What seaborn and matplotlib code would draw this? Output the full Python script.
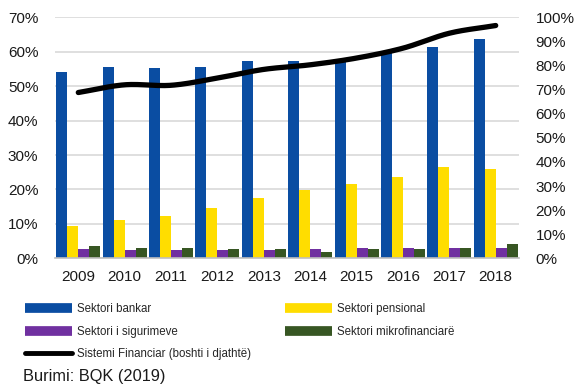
import numpy as np
import pandas as pd
import matplotlib
matplotlib.use("Agg")
import matplotlib.pyplot as plt
from matplotlib.lines import Line2D
import seaborn as sns

years = ["2009", "2010", "2011", "2012", "2013", "2014", "2015", "2016", "2017", "2018"]
bankar = [54.1, 55.7, 55.2, 55.7, 57.4, 57.4, 58.0, 59.9, 61.5, 63.7]
pensional = [9.4, 11.1, 12.3, 14.5, 17.4, 19.9, 21.5, 23.7, 26.6, 26.0]
sigurimeve = [2.6, 2.5, 2.5, 2.5, 2.5, 2.6, 3.1, 3.1, 3.1, 3.1]
mikrofin = [3.7, 3.1, 3.1, 2.6, 2.6, 1.9, 2.6, 2.6, 3.1, 4.2]
sistemi = [68.8, 72.0, 71.8, 74.8, 78.4, 80.3, 83.1, 87.2, 93.4, 96.6]

series_names = ["Sektori bankar", "Sektori pensional", "Sektori i sigurimeve",
                "Sektori mikrofinanciarë"]
line_name = "Sistemi Financiar (boshti i djathtë)"
colors = ["#0A4DA2", "#FFDD00", "#7030A0", "#375623"]

sns.set_theme(style="white")
plt.rcParams["font.family"] = ["Liberation Sans", "DejaVu Sans"]

df = pd.DataFrame({
    "year": np.repeat(years, 4),
    "sector": series_names * len(years),
    "value": np.ravel(np.column_stack([bankar, pensional, sigurimeve, mikrofin])),
})

fig = plt.figure(figsize=(5.74, 3.85), dpi=100)
ax = fig.add_axes([0.096, 0.329, 0.808, 0.626])

sns.barplot(data=df, x="year", y="value", hue="sector", hue_order=series_names,
            palette=colors, width=0.95, gap=0.0, saturation=1, ax=ax,
            legend=False, edgecolor="none")

ax.set_ylim(0, 70)
ax.set_yticks(range(0, 71, 10))
ax.set_yticklabels([f"{v}%" for v in range(0, 71, 10)])
ax.set_xlim(-0.5, len(years) - 0.5)
ax.set_xlabel("")
ax.set_ylabel("")
ax.grid(axis="y", color="#D9D9D9", linewidth=1.2)
ax.set_axisbelow(True)
for s in ["left", "right", "top"]:
    ax.spines[s].set_visible(False)
ax.spines["bottom"].set_color("#BFBFBF")
ax.spines["bottom"].set_linewidth(1.2)
ax.tick_params(axis="y", length=0, labelsize=11, pad=12, colors="#1A1A1A")
ax.tick_params(axis="x", length=0, labelsize=11, pad=8.5, colors="#1A1A1A")
# category boundary ticks on the x axis
ax.set_xticks(np.arange(-0.5, len(years), 1.0), minor=True)
ax.tick_params(axis="x", which="minor", length=5, width=1.2, color="#BFBFBF",
               direction="out")

# Right axis: smoothed financial system line
ax2 = ax.twinx()
x = np.arange(len(years), dtype=float)
y = np.array(sistemi, dtype=float)
# cubic Hermite smoothing through the yearly points
xs, ys = [], []
m = np.gradient(y, x)
for i in range(len(x) - 1):
    t = np.linspace(0, 1, 30)
    h00 = 2 * t**3 - 3 * t**2 + 1
    h10 = t**3 - 2 * t**2 + t
    h01 = -2 * t**3 + 3 * t**2
    h11 = t**3 - t**2
    xs.append(x[i] + t)
    ys.append(h00 * y[i] + h10 * m[i] + h01 * y[i + 1] + h11 * m[i + 1])
smooth = pd.DataFrame({"x": np.concatenate(xs), "y": np.concatenate(ys)})
sns.lineplot(data=smooth, x="x", y="y", color="black", linewidth=3.8,
             ax=ax2, sort=False, solid_capstyle="round")
ax2.set_ylim(0, 100)
ax2.set_yticks(range(0, 101, 10))
ax2.set_yticklabels([f"{v}%" for v in range(0, 101, 10)])
ax2.set_ylabel("")
ax2.set_xlabel("")
ax2.grid(False)
for s in ["left", "right", "top", "bottom"]:
    ax2.spines[s].set_visible(False)
ax2.tick_params(axis="y", length=0, labelsize=11, pad=12, colors="#1A1A1A")
ax.set_xlim(-0.5, len(years) - 0.5)

# Legend
h_bank = Line2D([], [], color=colors[0], linewidth=7, solid_capstyle="butt")
h_pens = Line2D([], [], color=colors[1], linewidth=7, solid_capstyle="butt")
h_sig = Line2D([], [], color=colors[2], linewidth=7, solid_capstyle="butt")
h_mik = Line2D([], [], color=colors[3], linewidth=7, solid_capstyle="butt")
h_sys = Line2D([], [], color="black", linewidth=3.5, solid_capstyle="round")

leg_kw = dict(frameon=False, fontsize=8.3, handlelength=4.1, handletextpad=0.42,
              labelspacing=0.92, borderaxespad=0, borderpad=0, loc="upper left")
leg1 = fig.legend([h_bank, h_sig, h_sys],
                  [series_names[0], series_names[2], line_name],
                  bbox_to_anchor=(25 / 574, 1 - 303 / 385), **leg_kw)
leg2 = fig.legend([h_pens, h_mik], [series_names[1], series_names[3]],
                  bbox_to_anchor=(285 / 574, 1 - 303 / 385), **leg_kw)

fig.text(23 / 574, 1 - 376 / 385, "Burimi: BQK (2019)", fontsize=11.8,
         ha="left", va="center", color="#1A1A1A")

fig.savefig("out.png", dpi=100)
